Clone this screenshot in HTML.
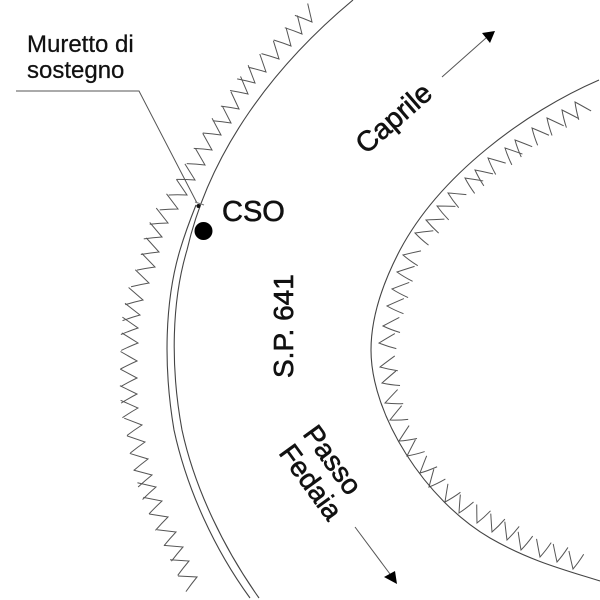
<!DOCTYPE html>
<html><head><meta charset="utf-8"><style>
html,body{margin:0;padding:0;background:#fff}
svg{display:block}
text{font-family:"Liberation Sans",sans-serif;fill:#111;stroke:#111;stroke-width:.6px}
</style></head><body>
<svg width="600" height="600" viewBox="0 0 600 600" xmlns="http://www.w3.org/2000/svg">
<defs>
<path id="a" d="M-9.500,16.500 Q-4,7 0,0 Q3.500,8 8,16.500" fill="none" stroke="#555" stroke-width="1"/>
<path id="b" d="M-10,-15.500 Q-4,-6 0,0 Q3,-8 5,-17.500" fill="none" stroke="#555" stroke-width="1"/>
</defs>

<!-- left ticks -->
<g>
<use href="#a" transform="translate(312 22) rotate(137)"/>
<use href="#a" transform="translate(302 34) rotate(136)"/>
<use href="#a" transform="translate(291 46) rotate(135)"/>
<use href="#a" transform="translate(279 59) rotate(133)"/>
<use href="#a" transform="translate(266 72) rotate(131)"/>
<use href="#a" transform="translate(255 83) rotate(129)"/>
<use href="#a" transform="translate(248 94) rotate(127)"/>
<use href="#a" transform="translate(239 109) rotate(125)"/>
<use href="#a" transform="translate(231 123) rotate(123)"/>
<use href="#a" transform="translate(221 135) rotate(122)"/>
<use href="#a" transform="translate(212 150) rotate(121)"/>
<use href="#a" transform="translate(205 165) rotate(120)"/>
<use href="#a" transform="translate(195 180) rotate(118)"/>
<use href="#a" transform="translate(187 195) rotate(116)"/>
<use href="#a" transform="translate(178 209) rotate(113)"/>
<use href="#a" transform="translate(168 223) rotate(112)"/>
<use href="#a" transform="translate(162 237) rotate(110)"/>
<use href="#a" transform="translate(159 252) rotate(108)"/>
<use href="#a" transform="translate(155 267) rotate(106)"/>
<use href="#a" transform="translate(149 283) rotate(104)"/>
<use href="#a" transform="translate(143 300) rotate(101)"/>
<use href="#a" transform="translate(140 315) rotate(98)"/>
<use href="#a" transform="translate(138 328) rotate(95)"/>
<use href="#a" transform="translate(138 343) rotate(92)"/>
<use href="#a" transform="translate(137 361) rotate(90)"/>
<use href="#a" transform="translate(137 378) rotate(88)"/>
<use href="#a" transform="translate(137 394) rotate(86)"/>
<use href="#a" transform="translate(138 408) rotate(84)"/>
<use href="#a" transform="translate(142 425) rotate(81)"/>
<use href="#a" transform="translate(145 442) rotate(79)"/>
<use href="#a" transform="translate(148 459) rotate(77)"/>
<use href="#a" transform="translate(152 475) rotate(75)"/>
<use href="#a" transform="translate(156 487) rotate(73)"/>
<use href="#a" transform="translate(162 501) rotate(71)"/>
<use href="#a" transform="translate(168 517) rotate(69)"/>
<use href="#a" transform="translate(176 532) rotate(67)"/>
<use href="#a" transform="translate(183 547) rotate(65)"/>
<use href="#a" transform="translate(189 561) rotate(64)"/>
<use href="#a" transform="translate(197 577) rotate(63)"/>
</g>

<!-- right ticks -->
<g>
<use href="#b" transform="translate(575 102) rotate(152)"/>
<use href="#b" transform="translate(562 110) rotate(150)"/>
<use href="#b" transform="translate(547 118) rotate(148)"/>
<use href="#b" transform="translate(532 128) rotate(146)"/>
<use href="#b" transform="translate(515 140) rotate(144)"/>
<use href="#b" transform="translate(505 148) rotate(142)"/>
<use href="#b" transform="translate(488 158) rotate(139)"/>
<use href="#b" transform="translate(475 170) rotate(135)"/>
<use href="#b" transform="translate(465 178) rotate(132)"/>
<use href="#b" transform="translate(448 193) rotate(128)"/>
<use href="#b" transform="translate(437 206) rotate(124)"/>
<use href="#b" transform="translate(426 220) rotate(120)"/>
<use href="#b" transform="translate(415 233) rotate(116)"/>
<use href="#b" transform="translate(403 255) rotate(110)"/>
<use href="#b" transform="translate(397 272) rotate(105)"/>
<use href="#b" transform="translate(392 289) rotate(102)"/>
<use href="#b" transform="translate(387 306) rotate(99)"/>
<use href="#b" transform="translate(383 326) rotate(95)"/>
<use href="#b" transform="translate(379 343) rotate(92)"/>
<use href="#b" transform="translate(380 367) rotate(86)"/>
<use href="#b" transform="translate(382 383) rotate(82)"/>
<use href="#b" transform="translate(385 403) rotate(76)"/>
<use href="#b" transform="translate(390 420) rotate(72)"/>
<use href="#b" transform="translate(399 441) rotate(66)"/>
<use href="#b" transform="translate(407 456) rotate(60)"/>
<use href="#b" transform="translate(420 473) rotate(54)"/>
<use href="#b" transform="translate(429 487) rotate(48)"/>
<use href="#b" transform="translate(445 502) rotate(42)"/>
<use href="#b" transform="translate(459 513) rotate(37)"/>
<use href="#b" transform="translate(477 523) rotate(32)"/>
<use href="#b" transform="translate(492 532) rotate(29)"/>
<use href="#b" transform="translate(507 540) rotate(26)"/>
<use href="#b" transform="translate(521 550) rotate(24)"/>
<use href="#b" transform="translate(540 557) rotate(22)"/>
<use href="#b" transform="translate(557 562) rotate(21)"/>
<use href="#b" transform="translate(573 569) rotate(20)"/>
</g>

<!-- road edges -->
<g fill="none" stroke="#444" stroke-width="1.1">
<path d="M353,0 C275,65 210,150 187,250 C172,300 170,365 182,430 C195,490 225,550 259,598"/>
<path d="M196,205 C188,225 183,240 180,250 C165,300 163,365 174,430 C187,490 215,550 250,598"/>
<path d="M599,80 C525,112 440,175 400,250 C378,292 371,325 371,350 C371,415 425,500 490,538 C530,561 565,570 600,581"/>
</g>

<!-- leader -->
<polyline points="16,91 139,91 197,203" fill="none" stroke="#555" stroke-width="1"/>
<line x1="195" y1="202" x2="204" y2="205" stroke="#777" stroke-width="1"/>
<circle cx="198.500" cy="206" r="2" fill="#111"/>
<circle cx="203.500" cy="231" r="9" fill="#000"/>

<!-- arrows -->
<line x1="442" y1="77" x2="486" y2="38" stroke="#555" stroke-width="1"/>
<polygon points="495,31 482,33 490,43" fill="#000"/>
<line x1="355" y1="527" x2="390" y2="574" stroke="#555" stroke-width="1"/>
<polygon points="397,584 384,577 395,571" fill="#000"/>

<!-- labels -->
<text x="27" y="52" font-size="24" style="stroke-width:.25px">Muretto di</text>
<text x="27" y="78" font-size="24" style="stroke-width:.25px">sostegno</text>
<text x="222" y="221" font-size="29">CSO</text>
<text transform="translate(293 378) rotate(-90)" font-size="28">S.P. 641</text>
<text transform="translate(366 155) rotate(-41)" font-size="28.500">Caprile</text>
<text transform="translate(302 434) rotate(54)" font-size="28">Passo</text>
<text transform="translate(278 453) rotate(54)" font-size="28">Fedaia</text>
</svg>
</body></html>
